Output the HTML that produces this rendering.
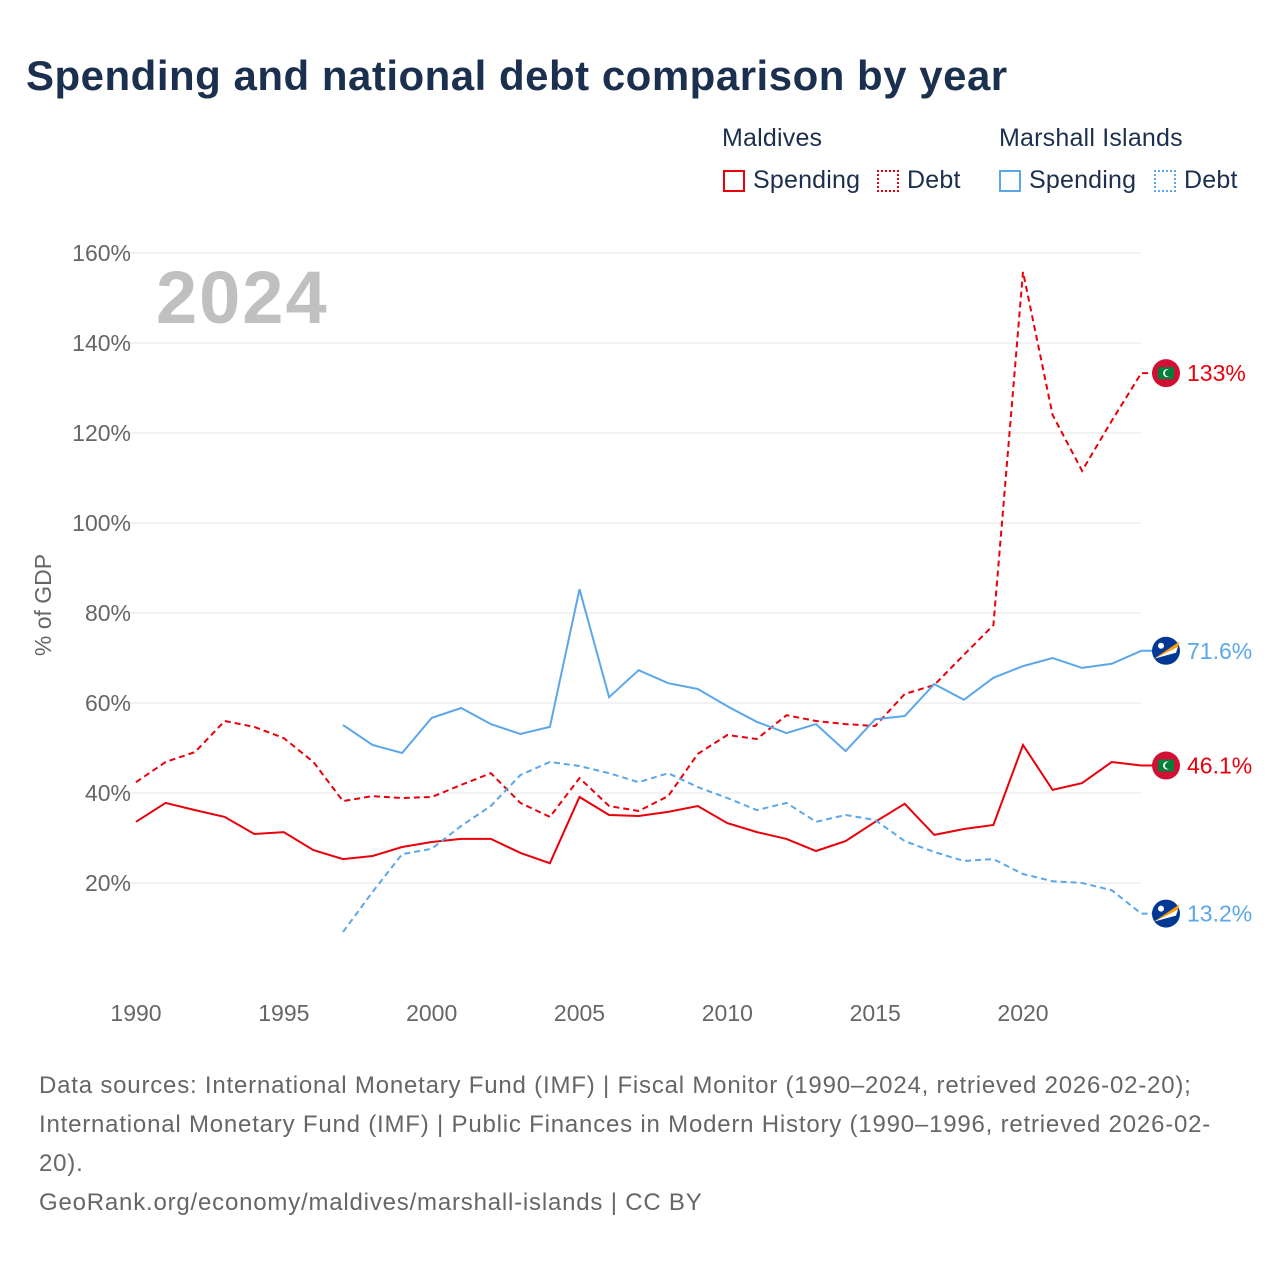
<!DOCTYPE html>
<html><head><meta charset="utf-8">
<style>
body{margin:0;background:#fff;font-family:"Liberation Sans",sans-serif;}
#wrap{position:relative;width:1280px;height:1280px;overflow:hidden;}
h1{position:absolute;left:26px;top:52px;margin:0;font-size:42px;font-weight:bold;color:#1b2f4e;letter-spacing:0.5px;white-space:nowrap;}
.leg{position:absolute;font-size:25px;color:#1b2f4e;letter-spacing:0.2px;}
.box{position:absolute;width:22px;height:22px;box-sizing:border-box;}
.src{position:absolute;left:39px;top:1066px;width:1230px;font-size:24px;line-height:39px;color:#666;letter-spacing:0.8px;white-space:nowrap;}
</style></head><body>
<div id="wrap">
<h1>Spending and national debt comparison by year</h1>
<div class="leg" style="left:722px;top:124px">Maldives</div>
<div class="leg" style="left:999px;top:124px">Marshall Islands</div>
<div class="box" style="left:723px;top:170px;border:2px solid #e8000b"></div>
<div class="leg" style="left:753px;top:166px">Spending</div>
<div class="box" style="left:877px;top:170px;border:2px dotted #e8000b"></div>
<div class="leg" style="left:907px;top:166px">Debt</div>
<div class="box" style="left:999px;top:170px;border:2px solid #5ba7ea"></div>
<div class="leg" style="left:1029px;top:166px">Spending</div>
<div class="box" style="left:1154px;top:170px;border:2px dotted #5ba7ea"></div>
<div class="leg" style="left:1184px;top:166px">Debt</div>
<svg id="chart" width="1280" height="1280" style="position:absolute;left:0;top:0"></svg>
<div class="src">Data sources: International Monetary Fund (IMF) | Fiscal Monitor (1990–2024, retrieved 2026-02-20);<br>International Monetary Fund (IMF) | Public Finances in Modern History (1990–1996, retrieved 2026-02-<br>20).<br>GeoRank.org/economy/maldives/marshall-islands | CC BY</div>
</div>
<script>
const yTicks=[20,40,60,80,100,120,140,160];
const xTicks=[1990,1995,2000,2005,2010,2015,2020];
const mvYears=[1990,1991,1992,1993,1994,1995,1996,1997,1998,1999,2000,2001,2002,2003,2004,2005,2006,2007,2008,2009,2010,2011,2012,2013,2014,2015,2016,2017,2018,2019,2020,2021,2022,2023,2024];
const mvSpending=[33.6,37.8,36.2,34.7,30.9,31.3,27.3,25.3,26,28,29.1,29.8,29.8,26.7,24.4,39.1,35.1,34.9,35.8,37.1,33.3,31.3,29.8,27.1,29.3,33.6,37.6,30.7,32,32.9,50.7,40.7,42.2,46.9,46.1];
const mvDebt=[42.4,46.9,49.1,56,54.7,52.2,46.9,38.2,39.3,38.9,39.1,41.8,44.4,37.8,34.7,43.3,37.1,36,39.3,48.7,52.9,52,57.3,56,55.3,54.9,62,64,70.7,77.3,155.8,124,111.6,122.7,133.3];
const mhYears=[1997,1998,1999,2000,2001,2002,2003,2004,2005,2006,2007,2008,2009,2010,2011,2012,2013,2014,2015,2016,2017,2018,2019,2020,2021,2022,2023,2024];
const mhSpending=[55.1,50.7,48.9,56.7,58.9,55.3,53.1,54.7,85.3,61.3,67.3,64.4,63.1,59.3,55.8,53.3,55.3,49.3,56.4,57.1,64.2,60.7,65.6,68.2,70,67.8,68.7,71.6];
const mhDebt=[9.1,18,26.4,27.6,32.7,37.1,44,46.9,46,44.4,42.4,44.4,41.3,38.9,36.2,37.8,33.6,35.1,34,29.3,26.9,24.9,25.3,22,20.4,20,18.4,13.2];
const mvSpendLabel="46.1%", mvDebtLabel="133%", mhSpendLabel="71.6%", mhDebtLabel="13.2%";

const NS="http://www.w3.org/2000/svg";
const svg=document.getElementById('chart');
const X=y=>136+(y-1990)*(1023-136)/30;
const Y=v=>973-v*4.5;
function el(t,a,p){const e=document.createElementNS(NS,t);for(const k in a)e.setAttribute(k,a[k]);(p||svg).appendChild(e);return e;}
yTicks.forEach(t=>{
 const l=el('line',{x1:125,x2:1141,y1:Y(t),y2:Y(t),stroke:'#e6e6e6','stroke-width':1});
 
 
 const tx=el('text',{x:131,y:Y(t)+8,'text-anchor':'end','font-size':23,fill:'#666'});
 tx.textContent=t+'%';
 
 
});
xTicks.forEach(t=>{
 const tx=el('text',{x:X(t),y:1021,'text-anchor':'middle','font-size':23,fill:'#666'});
 tx.textContent=t;
 
 
});
const yt=el('text',{x:0,y:0,transform:'translate(51,605) rotate(-90)','text-anchor':'middle','font-size':23,fill:'#666'});
yt.textContent='% of GDP';


const yr=el('text',{x:156,y:323,'font-size':74,'font-weight':'bold',fill:'#c0c0c0','letter-spacing':2});
yr.textContent='2024';


function series(xs,vs,color,dash,name){
 let d='';xs.forEach((x,i)=>{d+=(i?'L':'M')+X(x).toFixed(1)+','+Y(vs[i]).toFixed(1);});
 d+='L'+(X(xs[xs.length-1])+14)+','+Y(vs[vs.length-1]).toFixed(1);
 const p=el('path',{d:d,fill:'none',stroke:color,'stroke-width':2,'stroke-dasharray':dash?'6,4':'none'});
 
 
}
series(mvYears,mvDebt,'#e8000b',true,'maldives-debt-line');
series(mvYears,mvSpending,'#e8000b',false,'maldives-spending-line');
series(mhYears,mhDebt,'#5ba7ea',true,'marshall-debt-line');
series(mhYears,mhSpending,'#5ba7ea',false,'marshall-spending-line');
function flag(v,type,label,color,name){
 const cy=Y(v),cx=1166;
 const g=el('g',{});
 
 
 if(type==='mv'){
  el('circle',{cx:cx,cy:cy,r:14,fill:'#d21034'},g);
  el('rect',{x:cx-8,y:cy-6,width:16,height:12,fill:'#007e3a'},g);
  el('circle',{cx:cx+1,cy:cy,r:4,fill:'#fff'},g);
  el('circle',{cx:cx+2.5,cy:cy,r:3.5,fill:'#007e3a'},g);
 }else{
  el('circle',{cx:cx,cy:cy,r:14,fill:'#003893'},g);
  el('path',{d:`M${cx-12},${cy+8}L${cx+13},${cy-9}L${cx+12},${cy-4}Z`,fill:'#ff9d00'},g);
  el('path',{d:`M${cx-12},${cy+8}L${cx+12},${cy-4}L${cx+10},${cy+2}Z`,fill:'#fff'},g);
  el('circle',{cx:cx-5,cy:cy-5,r:3,fill:'#fff'},g);
 }
 const t=el('text',{x:1187,y:cy+8,'font-size':23,fill:color});
 t.textContent=label;
 
 
}
flag(mvDebt[mvDebt.length-1],'mv',mvDebtLabel,'#e8000b','maldives-debt-end');
flag(mhSpending[mhSpending.length-1],'mh',mhSpendLabel,'#5ba7ea','marshall-spending-end');
flag(mvSpending[mvSpending.length-1],'mv',mvSpendLabel,'#e8000b','maldives-spending-end');
flag(mhDebt[mhDebt.length-1],'mh',mhDebtLabel,'#5ba7ea','marshall-debt-end');
</script>
</body></html>
